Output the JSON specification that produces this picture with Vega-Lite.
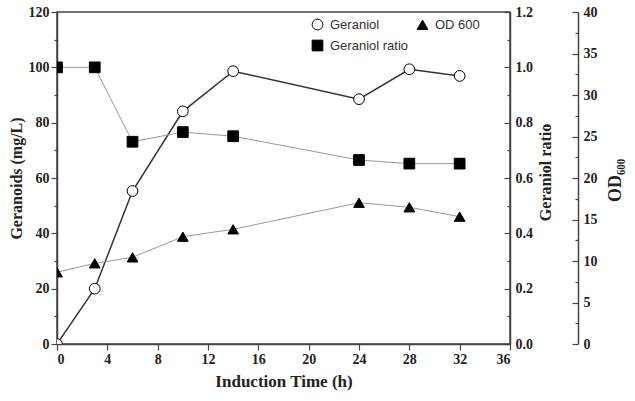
{
  "$schema": "https://vega.github.io/schema/vega-lite/v6.json",
  "width": 453,
  "height": 332,
  "autosize": "none",
  "padding": {"left": 57, "top": 12, "right": 125, "bottom": 57},
  "background": "white",
  "config": {
    "view": {"stroke": "#444", "strokeWidth": 1.5},
    "font": "Liberation Serif",
    "axis": {
      "labelFont": "Liberation Serif", "labelFontWeight": "bold", "labelFontSize": 14, "labelColor": "#222",
      "titleFont": "Liberation Serif", "titleFontWeight": "bold", "titleFontSize": 16, "titleColor": "#222",
      "domainColor": "#444", "domainWidth": 1.5, "tickColor": "#444", "tickWidth": 1.2, "grid": false
    }
  },
  "datasets": {
    "geraniol": [
      {"t": 0, "value": 0, "series": "Geraniol"},
      {"t": 3, "value": 20.0, "series": "Geraniol"},
      {"t": 6, "value": 55.3, "series": "Geraniol"},
      {"t": 10, "value": 84.1, "series": "Geraniol"},
      {"t": 14, "value": 98.6, "series": "Geraniol"},
      {"t": 24, "value": 88.5, "series": "Geraniol"},
      {"t": 28, "value": 99.3, "series": "Geraniol"},
      {"t": 32, "value": 96.9, "series": "Geraniol"}
    ],
    "ratio": [
      {"t": 0, "value": 1.0, "series": "Geraniol ratio"},
      {"t": 3, "value": 1.0, "series": "Geraniol ratio"},
      {"t": 6, "value": 0.731, "series": "Geraniol ratio"},
      {"t": 10, "value": 0.766, "series": "Geraniol ratio"},
      {"t": 14, "value": 0.751, "series": "Geraniol ratio"},
      {"t": 24, "value": 0.665, "series": "Geraniol ratio"},
      {"t": 28, "value": 0.652, "series": "Geraniol ratio"},
      {"t": 32, "value": 0.652, "series": "Geraniol ratio"}
    ],
    "od": [
      {"t": 0, "value": 8.64, "series": "OD 600"},
      {"t": 3, "value": 9.72, "series": "OD 600"},
      {"t": 6, "value": 10.44, "series": "OD 600"},
      {"t": 10, "value": 12.93, "series": "OD 600"},
      {"t": 14, "value": 13.82, "series": "OD 600"},
      {"t": 24, "value": 17.02, "series": "OD 600"},
      {"t": 28, "value": 16.47, "series": "OD 600"},
      {"t": 32, "value": 15.34, "series": "OD 600"}
    ]
  },
  "layer": [
    {
      "data": {"name": "geraniol"},
      "encoding": {
        "x": {"field": "t", "type": "quantitative", "scale": {"domain": [0, 36], "nice": false},
          "axis": {"title": "Induction Time (h)", "titleFontSize": 17, "values": [0,2,4,6,8,10,12,14,16,18,20,22,24,26,28,30,32,34,36],
            "labelExpr": "datum.value % 4 === 0 ? datum.label : ''",
            "tickSize": {"condition": {"test": "datum.value % 4 === 0", "value": 6}, "value": 3},
            "labelPadding": 2, "titlePadding": 7}},
        "y": {"field": "value", "type": "quantitative", "scale": {"domain": [0, 120], "nice": false},
          "axis": {"title": "Geranoids (mg/L)", "orient": "left", "values": [0,10,20,30,40,50,60,70,80,90,100,110,120],
            "labelExpr": "datum.value % 20 === 0 ? datum.label : ''",
            "tickSize": {"condition": {"test": "datum.value % 20 === 0", "value": 6}, "value": 3},
            "labelPadding": 2, "titlePadding": 4}}
      },
      "layer": [
        {"mark": {"type": "line", "color": "#333", "strokeWidth": 1.5, "clip": true}},
        {"mark": {"type": "point", "filled": false, "stroke": "black", "strokeWidth": 1, "opacity": 1, "size": 115, "clip": true},
          "encoding": {
            "shape": {"field": "series", "type": "nominal", "scale": {"domain": ["Geraniol", "OD 600", "Geraniol ratio"], "range": ["circle", "triangle-up", "square"]}},
            "fill": {"field": "series", "type": "nominal", "scale": {"domain": ["Geraniol", "OD 600", "Geraniol ratio"], "range": ["white", "black", "black"]}}
          }}
      ]
    },
    {
      "data": {"name": "ratio"},
      "encoding": {
        "x": {"field": "t", "type": "quantitative", "scale": {"domain": [0, 36], "nice": false}},
        "y": {"field": "value", "type": "quantitative", "scale": {"domain": [0, 1.2], "nice": false},
          "axis": {"title": "Geraniol ratio", "orient": "right", "values": [0,0.1,0.2,0.3,0.4,0.5,0.6,0.7,0.8,0.9,1.0,1.1,1.2],
            "format": ".1f",
            "labelExpr": "round(datum.value*10) % 2 === 0 ? datum.label : ''",
            "tickSize": {"condition": {"test": "round(datum.value*10) % 2 === 0", "value": -6}, "value": -3},
            "labelPadding": 11, "titleX": 35, "titleY": 160, "titleBaseline": "middle", "titleAlign": "center", "titleAngle": 270}}
      },
      "layer": [
        {"mark": {"type": "line", "color": "#999", "strokeWidth": 1, "clip": true}},
        {"mark": {"type": "point", "filled": false, "stroke": "black", "strokeWidth": 1, "opacity": 1, "size": 115, "clip": true},
          "encoding": {
            "shape": {"field": "series", "type": "nominal", "legend": {"title": null, "orient": "none", "legendX": 254, "legendY": 6, "columns": 2, "direction": "horizontal",
              "labelFont": "Liberation Sans", "labelFontSize": 13, "labelColor": "#333", "symbolSize": 115, "symbolStrokeColor": "black", "symbolStrokeWidth": 1, "rowPadding": 6, "columnPadding": 6, "labelOffset": 6}},
            "fill": {"field": "series", "type": "nominal"}
          }}
      ]
    },
    {
      "data": {"name": "od"},
      "encoding": {
        "x": {"field": "t", "type": "quantitative", "scale": {"domain": [0, 36], "nice": false}},
        "y": {"field": "value", "type": "quantitative", "scale": {"domain": [0, 40], "nice": false},
          "axis": {"title": "OD₆₀₀", "titleFontSize": 18, "orient": "right", "offset": 68, "values": [0,2.5,5,7.5,10,12.5,15,17.5,20,22.5,25,27.5,30,32.5,35,37.5,40],
            "labelExpr": "datum.value % 5 === 0 ? datum.label : ''",
            "tickSize": {"condition": {"test": "datum.value % 5 === 0", "value": -6}, "value": -3},
            "labelPadding": 11, "titleX": 37, "titleY": 168, "titleBaseline": "middle", "titleAlign": "center", "titleAngle": 270}}
      },
      "layer": [
        {"mark": {"type": "line", "color": "#999", "strokeWidth": 1, "clip": true}},
        {"mark": {"type": "point", "filled": false, "stroke": "black", "strokeWidth": 1, "opacity": 1, "size": 115, "clip": true},
          "encoding": {
            "shape": {"field": "series", "type": "nominal"},
            "fill": {"field": "series", "type": "nominal"}
          }}
      ]
    }
  ],
  "resolve": {"scale": {"y": "independent"}}
}
